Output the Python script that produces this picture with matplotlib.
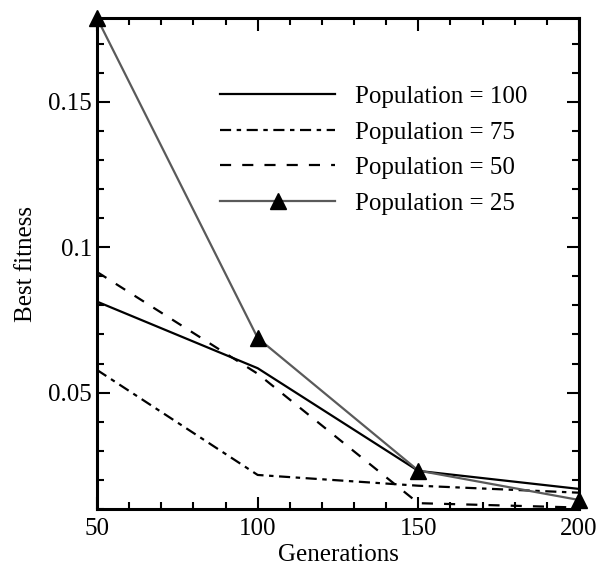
import matplotlib
matplotlib.use("Agg")
import matplotlib.pyplot as plt
from matplotlib.ticker import MultipleLocator

generations = [50, 100, 150, 200]
pop100 = [0.0813, 0.0584, 0.0231, 0.0169]
pop75 = [0.0578, 0.0217, 0.0180, 0.0156]
pop50 = [0.0915, 0.0565, 0.0120, 0.0105]
pop25 = [0.1788, 0.0688, 0.0232, 0.0131]

plt.rcParams['font.family'] = ['Liberation Serif', 'DejaVu Serif']
plt.rcParams['mathtext.fontset'] = 'stix'

fig = plt.figure(figsize=(6.0, 5.67), dpi=100)
ax = fig.add_axes([0.1617, 0.1018, 0.8033, 0.8664])

lw = 1.6
ax.plot(generations, pop100, color='black', lw=lw, ls='-', label='Population = 100')
ax.plot(generations, pop75, color='black', lw=lw, ls=(0, (5, 2.5, 2, 2.5)), label='Population = 75')
ax.plot(generations, pop50, color='black', lw=lw, ls=(0, (5, 5)), label='Population = 50')
ax.plot(generations, pop25, color='#5a5a5a', lw=lw, ls='-', marker='^', markersize=11,
        markerfacecolor='black', markeredgecolor='black', label='Population = 25', clip_on=False, zorder=5)

ax.set_xlim(50, 200)
ax.set_ylim(0.0099, 0.1788)
ax.xaxis.set_major_locator(MultipleLocator(50))
ax.xaxis.set_minor_locator(MultipleLocator(10))
ax.set_yticks([0.05, 0.1, 0.15])
ax.set_yticklabels(['0.05', '0.1', '0.15'])
ax.yaxis.set_minor_locator(MultipleLocator(0.01))

ax.tick_params(which='both', direction='in', top=True, right=True, labelsize=18, width=1.5)
ax.tick_params(which='major', length=9)
ax.tick_params(which='minor', length=5)
ax.tick_params(axis='x', pad=6)
for s in ax.spines.values():
    s.set_linewidth(2.2)

ax.set_xlabel('Generations', fontsize=18, labelpad=3)
ax.set_ylabel('Best fitness', fontsize=18, labelpad=8)

leg = ax.legend(loc='upper left', bbox_to_anchor=(0.235, 0.883), frameon=False, fontsize=18,
                handlelength=4.6, handletextpad=0.8, labelspacing=0.52, borderaxespad=0)

fig.savefig('out.png', dpi=100)
